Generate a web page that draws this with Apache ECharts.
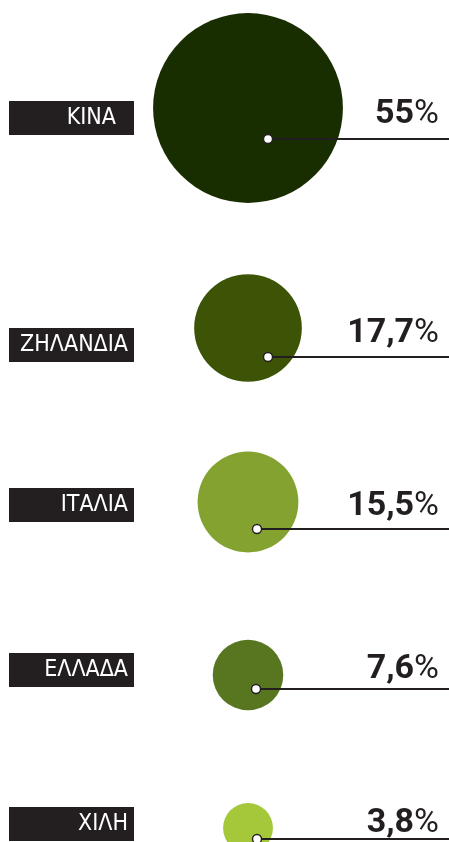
<!DOCTYPE html>
<html>
<head>
<meta charset="utf-8">
<script src="https://cdn.jsdelivr.net/npm/echarts@6/dist/echarts.min.js"></script>
<style>
  html, body { margin: 0; padding: 0; background: #fff; }
  #chart { width: 449px; height: 842px; }
</style>
</head>
<body>
<div id="chart"></div>
<script>
// data
const countries = ['ΚΙΝΑ', 'ΖΗΛΑΝΔΙΑ', 'ΙΤΑΛΙΑ', 'ΕΛΛΑΔΑ', 'ΧΙΛΗ'];
const shares = [55, 17.7, 15.5, 7.6, 3.8];
const shareLabels = ['55', '17,7', '15,5', '7,6', '3,8'];

// style / layout
const colors = ['#182d00', '#3d5407', '#84a22f', '#58751f', '#a4c83a'];
const rowY = [118, 345, 505, 670, 824];     // centre of the name box (px)
const circleDy = [-10, -17, -3, 5, 4];      // circle centre relative to row
const leaderDx = [20, 20, 9, 8, 9];         // leader dot relative to circle x
const leaderDy = [21, 12, 24, 19, 15];      // leader line relative to row
const valueDy = [14, 6, 19, 17, 17];        // bottom of value text relative to row
const boxPadRight = [18, 6, 6, 6, 6];

const HALF = 115;
const ink = '#231f20';
const nameFont = "'DejaVu Sans Condensed', sans-serif";
const numFont = "Roboto, 'Open Sans', sans-serif";

const chart = echarts.init(document.getElementById('chart'));

const grid = [], xAxis = [], yAxis = [], series = [];

countries.forEach((name, i) => {
  grid.push({
    left: 0, right: 0, top: rowY[i] - HALF, height: HALF * 2,
    containLabel: false, outerBoundsMode: 'none'
  });
  xAxis.push({ type: 'value', gridIndex: i, min: -248, max: 201, show: false });
  // value axis for the marks
  yAxis.push({ type: 'value', gridIndex: i, min: -HALF, max: HALF, inverse: true, show: false });
  // category axis carries the name box
  yAxis.push({
    type: 'category', gridIndex: i, data: [name], position: 'left', offset: -134,
    axisLine: { show: false, onZero: false },
    axisTick: { show: false },
    splitLine: { show: false },
    axisLabel: {
      margin: 0,
      color: '#fff',
      backgroundColor: ink,
      fontFamily: nameFont,
      fontSize: 23,
      lineHeight: 28,
      width: 125 - boxPadRight[i],
      overflow: 'none',
      align: 'right',
      padding: [6, boxPadRight[i], 0, 0]
    }
  });

  const yIdx = i * 2;
  series.push({
    type: 'scatter', xAxisIndex: i, yAxisIndex: yIdx, z: 2,
    data: [[0, circleDy[i], shares[i]]],
    symbolSize: v => 25.6 * Math.sqrt(v[2]),
    itemStyle: { color: colors[i], opacity: 1 },
    emphasis: { disabled: true },
    silent: true
  });
  series.push({
    type: 'line', xAxisIndex: i, yAxisIndex: yIdx, z: 3,
    data: [[leaderDx[i], leaderDy[i]], [201, leaderDy[i]]],
    symbol: 'none',
    lineStyle: { color: ink, width: 2.2, opacity: 1 },
    silent: true
  });
  series.push({
    type: 'scatter', xAxisIndex: i, yAxisIndex: yIdx, z: 4,
    data: [[leaderDx[i], leaderDy[i]]],
    symbolSize: 9,
    itemStyle: { color: '#fff', borderColor: ink, borderWidth: 1.4, opacity: 1 },
    silent: true
  });
  series.push({
    type: 'scatter', xAxisIndex: i, yAxisIndex: yIdx, z: 5,
    data: [[201, valueDy[i]]],
    symbolSize: 1,
    itemStyle: { color: 'rgba(0,0,0,0)', opacity: 1 },
    silent: true,
    label: {
      show: true,
      position: 'top',
      distance: 0,
      align: 'right',
      verticalAlign: 'bottom',
      offset: [-10, 0],
      color: ink,
      formatter: () => '{n|' + shareLabels[i] + '}{p|%}',
      rich: {
        n: { fontFamily: numFont, fontWeight: 'bold', fontSize: 34, lineHeight: 34, color: ink },
        p: { fontFamily: numFont, fontWeight: 'normal', fontSize: 34, lineHeight: 34, color: ink }
      }
    }
  });
});

chart.setOption({
  animation: false,
  backgroundColor: '#fff',
  grid, xAxis, yAxis, series
});
</script>
</body>
</html>
